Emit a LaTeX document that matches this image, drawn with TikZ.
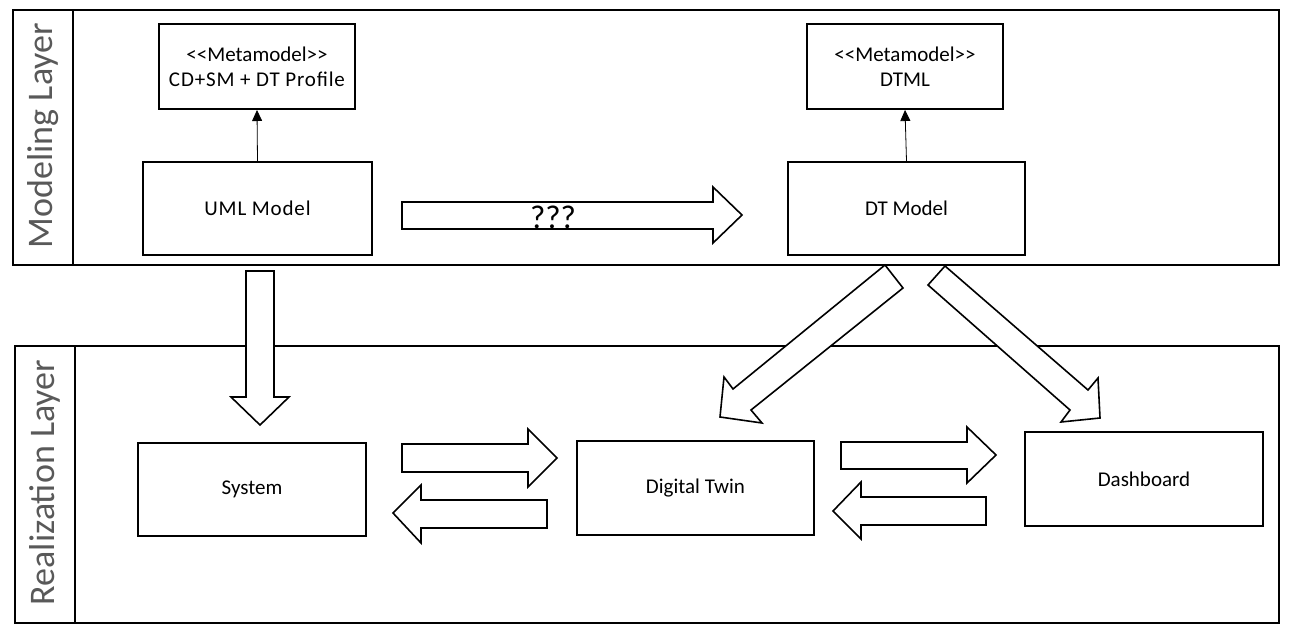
\documentclass[tikz,border=0pt]{standalone}
\usepackage{fontspec}
\newfontfamily\carl{Carlito}
\newfontfamily\carlwide{Carlito}[LetterSpace=4]
\usetikzlibrary{arrows.meta}
\definecolor{layergray}{RGB}{89,89,89}
\tikzset{
  layer/.style={draw=black, line width=2.4pt},
  layerlabel/.style={font=\carl\fontsize{36}{40}\selectfont, text=layergray, rotate=90, inner sep=0pt},
  box/.style={draw=black, line width=2pt, fill=white, font=\carl\fontsize{21}{24}\selectfont, align=center, inner sep=0pt},
  blockarrow/.style={draw=black, line width=1.6pt, fill=white, line join=miter},
  conform/.style={line width=0.8pt, -{Triangle[length=11pt,width=10pt]}},
}
\begin{document}
\begin{tikzpicture}[x=1pt,y=-1pt]
\useasboundingbox (0,0) rectangle (1298,643);
% layers
\draw[layer] (13,10) rectangle (1279,265);
\draw[layer] (73,10) -- (73,265);
\node[layerlabel] (mlabel) at (43,135.5) {Modeling Layer};
\draw[layer] (15,346) rectangle (1279,623);
\draw[layer] (75,346) -- (75,623);
\node[layerlabel] (rlabel) at (45,482.5) {Realization Layer};
% block arrows
% ??? arrow
\draw[blockarrow] (402,202) -- (713,202) -- (713,187) -- (742,215) -- (713,243) -- (713,229) -- (402,229) -- cycle;
\node[font=\carl\fontsize{33}{36}\selectfont, inner sep=0pt] (qqq) at (553,217) {???};
% UML -> System (down)
\draw[blockarrow] (246,271) -- (246,397) -- (231,397) -- (260,425) -- (289,397) -- (274,397) -- (274,271) -- cycle;
% System -> DT
\draw[blockarrow] (402,444) -- (528,444) -- (528,429) -- (557,458) -- (528,487) -- (528,472) -- (402,472) -- cycle;
% DT -> System
\draw[blockarrow] (547,500) -- (421,500) -- (421,485) -- (393,513) -- (421,543) -- (421,528) -- (547,528) -- cycle;
% DT -> Dashboard
\draw[blockarrow] (841,442) -- (967,442) -- (967,427) -- (996,455) -- (967,483) -- (967,469) -- (841,469) -- cycle;
% Dashboard -> DT
\draw[blockarrow] (986,497) -- (861,497) -- (861,482) -- (833,511) -- (861,539) -- (861,525) -- (986,525) -- cycle;
% DT Model -> Digital Twin (diagonal)
\draw[blockarrow] (885,265) -- (733,389) -- (724,377) -- (720,417) -- (762,423) -- (751,410) -- (903,288) -- cycle;
% DT Model -> Dashboard (diagonal)
\draw[blockarrow] (945,266) -- (1088,390) -- (1098,378) -- (1100,418) -- (1061,422) -- (1070,410) -- (928,285) -- cycle;
% boxes
\node[box, minimum width=196pt, minimum height=85pt] (mm1) at (257,66.5) {{<}{<}Metamodel{>}{>}\\[1pt]{\carlwide CD+SM + DT Profile}};
\node[box, minimum width=229pt, minimum height=93pt] (uml) at (257.5,208.5) {{\carlwide UML Model}};
\node[box, minimum width=196pt, minimum height=85pt] (mm2) at (905,66.5) {{<}{<}Metamodel{>}{>}\\[1pt]DTML};
\node[box, minimum width=237pt, minimum height=93pt] (dtm) at (906.5,208.5) {DT Model};
\node[box, minimum width=228pt, minimum height=93pt] (sys) at (252,489.5) {System};
\node[box, minimum width=237pt, minimum height=94pt] (dt) at (695.5,488) {Digital Twin};
\node[box, minimum width=238pt, minimum height=94pt] (dash) at (1144,479) {Dashboard};
% conformance arrows
\draw[conform] (uml.north) -- (mm1.south);
\draw[conform] (dtm.north) -- (mm2.south);
\end{tikzpicture}
\end{document}
